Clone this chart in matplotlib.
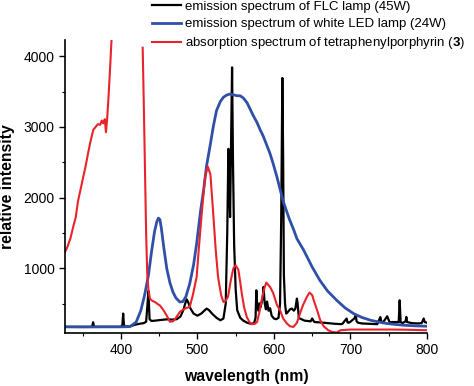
import numpy as np
import matplotlib
matplotlib.use('Agg')
from matplotlib import pyplot as plt

# emission spectrum of FLC lamp (wavelength nm, intensity)
flc = [(327, 172), (340, 172), (360, 172), (362.5, 175), (363.7, 237), (365, 175), (367, 172),
       (380, 172), (400, 172), (402, 200), (403, 360), (404, 200), (406, 175), (412, 180),
       (418, 200), (424, 215), (430, 225), (433, 245), (434.5, 450), (436, 680), (437.5, 280),
       (440, 255), (445, 260), (451, 268), (460, 278), (467, 275), (473, 280), (478, 320),
       (482, 420), (484, 500), (486, 560), (488, 520), (491, 430), (495, 360), (500, 330),
       (505, 360), (509, 400), (512, 430), (515, 410), (520, 350), (525, 300), (530, 265),
       (534, 290), (537, 500), (539, 1500), (540.5, 2690), (541.5, 2300), (542.7, 1725),
       (543.8, 2600), (545.3, 3843), (546.5, 2500), (548, 1340), (550, 700), (552, 407),
       (556, 300), (560, 260), (565, 230), (570, 215), (574, 223), (576, 300), (577, 689),
       (578, 500), (579.7, 400), (581, 505), (582.5, 450), (584, 520), (585.5, 600),
       (586.3, 736), (588, 500), (589.5, 420), (591, 530), (593, 400), (595, 435), (597, 330),
       (600, 290), (603, 280), (606, 300), (608, 500), (609.5, 1700), (611, 3693), (612, 2600),
       (613, 900), (614.5, 500), (616, 360), (618, 380), (621, 420), (623.4, 430), (626, 400),
       (628, 430), (630, 572), (631, 500), (632.5, 300), (634, 290), (640, 260), (648, 250),
       (650, 290), (651.5, 260), (653, 240), (660, 235), (670, 225), (680, 215), (688, 210),
       (690, 220), (692, 250), (695, 290), (696, 240), (697, 230), (699, 236), (705, 290),
       (707, 336), (708, 250), (710, 230), (715, 220), (725, 215), (735, 210), (739, 310),
       (740, 260), (742, 225), (748, 322), (751, 240), (752, 225), (754, 240), (763, 240),
       (764.3, 548), (765.5, 240), (768, 225), (772, 250), (773, 312), (774, 240), (780, 225),
       (788, 220), (793, 225), (795.7, 290), (797, 240), (800, 230)]

# emission spectrum of white LED lamp
led = [(327, 172), (350, 170), (380, 172), (400, 172), (412, 175), (420, 240), (426, 400),
       (431, 620), (436, 900), (440, 1230), (444, 1520), (447, 1660), (449, 1710), (451, 1690),
       (453, 1560), (456, 1300), (460, 995), (464, 800), (468, 665), (472, 580), (477, 524),
       (481, 530), (485, 600), (490, 784), (495, 1050), (499, 1349), (504, 1800), (508, 2100),
       (512, 2450), (517, 2761), (521, 3020), (525, 3232), (530, 3360), (534, 3420),
       (538, 3450), (543, 3467), (547, 3455), (551, 3443), (556, 3440), (560, 3410),
       (565, 3340), (569, 3250), (573, 3160), (578, 3060), (582, 2960), (586, 2870),
       (590, 2760), (595, 2620), (599, 2480), (604, 2290), (608, 2120), (612, 1950),
       (620, 1700), (626, 1540), (630, 1420), (639, 1254), (650, 1018), (660, 830), (670, 680),
       (682, 548), (693, 440), (704, 360), (715, 305), (726, 266), (737, 240), (748, 219),
       (760, 205), (770, 195), (785, 186), (800, 181)]

# absorption spectrum of tetraphenylporphyrin (3); Soret band off scale
tpp = [(327, 1230), (330, 1300), (334, 1420), (338, 1600), (341, 1720), (344, 1950),
       (347, 2100), (351, 2300), (354, 2450), (357, 2620), (360, 2780), (364, 2960),
       (367, 3000), (370, 3040), (373, 3030), (375, 3090), (377, 3050), (379, 3110),
       (380.5, 2925), (382, 3100), (384, 3450), (386, 3850), (388, 4280), (390, 4700),
       (np.nan, np.nan),
       (428.5, 4120), (430, 3300), (431.5, 2400), (433, 1500), (434.5, 900), (436, 700),
       (438, 570), (441, 540), (445, 520), (448, 495), (451, 475), (455, 420), (460, 330),
       (464, 245), (468, 250), (472, 300), (477, 383), (482, 420), (486, 440), (490, 454),
       (494, 620), (499, 877), (502, 1300), (506, 1819), (510, 2290), (513.5, 2440),
       (517, 2330), (521, 1725), (524, 1250), (527, 877), (531, 620), (534, 524), (537, 540),
       (540, 600), (544, 850), (547, 1000), (550, 1042), (553.5, 980), (556, 800), (558, 643),
       (561, 450), (564.5, 312), (568, 240), (571, 209), (575, 215), (578, 241), (581, 380),
       (584, 548), (587, 700), (590, 798), (593, 760), (595, 736), (599, 650), (604, 480),
       (608, 407), (612, 290), (617, 219), (621, 180), (625.5, 171), (630, 230), (634, 360),
       (638, 480), (643, 595), (646.5, 657), (650, 620), (652, 548), (656, 420), (660.5, 266),
       (665, 180), (671, 124), (676, 100), (682, 92), (687, 124), (700, 134), (726, 134),
       (750, 134), (770, 132), (785, 128), (800, 124)]

labels = ['emission spectrum of FLC lamp (45W)',
          'emission spectrum of white LED lamp (24W)',
          r'absorption spectrum of tetraphenylporphyrin ($\mathbf{3}$)']

plt.rcParams['font.family'] = ['Liberation Sans', 'DejaVu Sans']
plt.rcParams['mathtext.fontset'] = 'custom'
plt.rcParams['mathtext.bf'] = 'Liberation Sans:bold'
plt.rcParams['mathtext.rm'] = 'Liberation Sans'

fig = plt.figure(figsize=(4.74, 3.86), dpi=100)
ax = fig.add_axes([65 / 474, 1 - 333 / 386, (427 - 65) / 474, (333 - 40) / 386])

x, y = zip(*flc)
ax.plot(x, y, color='black', lw=1.6, label=labels[0])
x, y = zip(*led)
ax.plot(x, y, color='#3050a8', lw=2.0, label=labels[1])
x, y = zip(*tpp)
ax.plot(x, y, color='#e8232b', lw=1.5, label=labels[2])

ax.set_xlim(327, 800)
ax.set_ylim(85, 4230)
ax.set_xticks([400, 500, 600, 700, 800])
ax.set_xticks(np.arange(350, 801, 50), minor=True)
ax.set_yticks([1000, 2000, 3000, 4000])
ax.set_yticks(np.arange(500, 4001, 500), minor=True)
ax.tick_params(which='major', direction='out', length=4, width=1, labelsize=10)
ax.tick_params(which='minor', direction='out', length=2.5, width=0.8)

for s in ['top', 'right']:
    ax.spines[s].set_visible(False)
for s in ['left', 'bottom']:
    ax.spines[s].set_linewidth(1.2)

ax.set_xlabel('wavelength (nm)', fontsize=11.3, fontweight='bold', labelpad=8)
ax.set_ylabel('relative intensity', fontsize=11.3, fontweight='bold', labelpad=6)

fig.legend(loc='upper left', bbox_to_anchor=(151 / 474, 1.0), frameon=False,
           fontsize=9.5, borderpad=0.05, borderaxespad=0, labelspacing=0.38,
           handlelength=2.2, handletextpad=0.35)

fig.savefig('out.png', dpi=100)
